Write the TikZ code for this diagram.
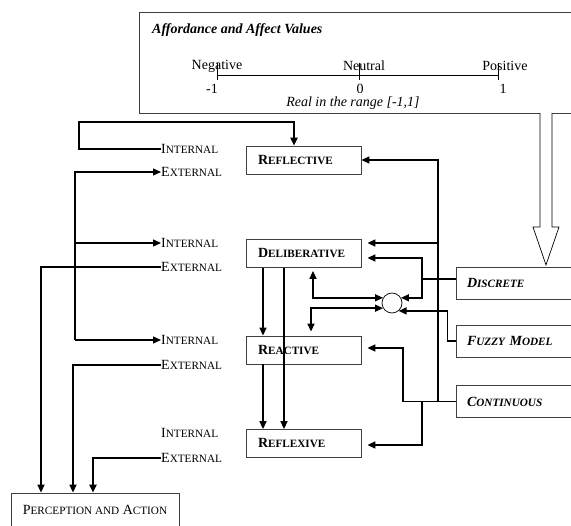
\documentclass[tikz,border=0pt]{standalone}
\usepackage{fontspec}
\setmainfont{Liberation Serif}
\usetikzlibrary{arrows.meta}
\newcommand\fsc[2]{#1{\fontsize{11.2}{13}\selectfont#2}}
\tikzset{
  wire/.style={line width=1.4pt},
  arr/.style={wire,-{Triangle[length=8pt,width=7pt]}},
  biarr/.style={wire,{Triangle[length=8pt,width=7pt]}-{Triangle[length=8pt,width=7pt]}},
  frame/.style={draw=black!75,line width=0.8pt},
  lvl/.style={frame,minimum height=28pt,text width=91pt,inner xsep=12pt,align=left,font=\bfseries},
  src/.style={frame,minimum height=32pt,text width=108pt,inner xsep=11pt,align=left,font=\bfseries\itshape},
  tag/.style={inner sep=0pt,anchor=west},
  num/.style={inner sep=1pt},
}
\begin{document}
\fontsize{14}{16}\selectfont
\begin{tikzpicture}[x=1pt,y=-1pt]
\useasboundingbox (0,0) rectangle (571,526);
\clip (0,0) rectangle (571,526);

% value scale
\node[frame,minimum width=445pt,minimum height=101pt,anchor=north west] (affect) at (139,12) {};
\node[anchor=west,inner sep=0pt,font=\bfseries\itshape] (title) at (152,30) {Affordance and Affect Values};
\coordinate (neg) at (217,75);
\coordinate (neu) at (359,75);
\coordinate (pos) at (498,75);
\node[num] (negtxt) at (217,66) {Negative};
\node[num] (neutxt) at (364,66) {Neutral};
\node[num] (postxt) at (505,66) {Positive};
\draw[line width=0.7pt] (neg) -- (pos);
\foreach \p in {neg,neu,pos}
  \draw[line width=0.7pt] ([yshift=12pt]\p) -- ([yshift=-5pt]\p);
\node[num] (minone) at (212,89) {-1};
\node[num] (zero) at (360,89) {0};
\node[num] (one) at (503,89) {1};
\node[num,font=\itshape] (range) at (353,103) {Real in the range [-1,1]};

% hollow arrow
\draw[line width=0.7pt,fill=white] (540,113) -- (540,227) -- (533,227) -- (546,265)
  -- (559,227) -- (552,227) -- (552,113);

% levels
\node[lvl] (reflective) at (303.5,160) {\fsc{R}{EFLECTIVE}};
\node[lvl] (deliberative) at (303.5,253.5) {\fsc{D}{ELIBERATIVE}};
\node[lvl] (reactive) at (303.5,350) {\fsc{R}{EACTIVE}};
\node[lvl] (reflexive) at (303.5,443.5) {\fsc{R}{EFLEXIVE}};

% sources
\node[src] (discrete) at (521,283) {\fsc{D}{ISCRETE}};
\node[src] (fuzzy) at (521,341) {\fsc{F}{UZZY} \fsc{M}{ODEL}};
\node[src] (continuous) at (521,401.5) {\fsc{C}{ONTINUOUS}};

\node[frame,minimum width=168pt,minimum height=34pt] (percept) at (95,510)
  {\fsc{P}{ERCEPTION AND} \fsc{A}{CTION}};
\node[draw,circle,minimum size=20pt,inner sep=0pt,line width=0.7pt] (mix) at (392,303) {};

% internal / external tags
\node[tag] (int1) at (161,149) {\fsc{I}{NTERNAL}};
\node[tag] (ext1) at (161,172) {\fsc{E}{XTERNAL}};
\node[tag] (int2) at (161,243) {\fsc{I}{NTERNAL}};
\node[tag] (ext2) at (161,267) {\fsc{E}{XTERNAL}};
\node[tag] (int3) at (161,340) {\fsc{I}{NTERNAL}};
\node[tag] (ext3) at (161,365) {\fsc{E}{XTERNAL}};
\node[tag] (int4) at (161,433) {\fsc{I}{NTERNAL}};
\node[tag] (ext4) at (161,458) {\fsc{E}{XTERNAL}};

% left side
\draw[arr,line width=2pt] (int1.west) -| (79,122) -| ([xshift=-9.5pt]reflective.north);
\coordinate (trunk) at ([xshift=-86pt]int3.west);
\draw[arr] (trunk) |- (ext1.west);
\draw[arr] (trunk) |- (int2.west);
\draw[arr] (trunk) -- (int3.west);
\draw[arr] (ext2.west) -| ([xshift=-54pt]percept.north);
\draw[arr] (ext3.west) -| ([xshift=-22pt]percept.north);
\draw[arr,line width=2pt] (ext4.west) -| ([xshift=-2pt]percept.north);

% between levels
\draw[arr] ([xshift=-40.5pt]deliberative.south) -- ([xshift=-40.5pt]reactive.north);
\draw[arr] ([xshift=-40.5pt]reactive.south) -- ([xshift=-40.5pt]reflexive.north);
\draw[arr] ([xshift=-19.5pt]deliberative.south) -- ([xshift=-19.5pt]reflexive.north);
\draw[biarr] ([xshift=9.5pt,yshift=-3pt]deliberative.south) |- (mix.150);
\draw[biarr] ([xshift=7.5pt,yshift=4pt]reactive.north) |- (mix.210);

% discrete and fuzzy
\coordinate (dsplit) at (422,279);
\draw[wire] ([yshift=4pt]discrete.west) -- (dsplit);
\draw[arr] (dsplit) |- ([xshift=6pt,yshift=-4.5pt]deliberative.east);
\draw[arr] (dsplit) |- (mix.30);
\draw[arr] (fuzzy.west) -- ++(-8,0) |- (mix.-50);

% continuous
\coordinate (cbus) at (438,401.5);
\draw[arr] (continuous.west) -| (reflective.east -| cbus) -- (reflective.east);
\draw[arr] ([yshift=10.5pt]deliberative.east -| cbus) -- ([xshift=6pt,yshift=10.5pt]deliberative.east);
\draw[arr] (continuous.west) -| (403,348) -- ([xshift=6pt,yshift=2pt]reactive.east);
\draw[arr] (422,401.5) |- ([xshift=6pt,yshift=-1.5pt]reflexive.east);
\end{tikzpicture}
\end{document}
